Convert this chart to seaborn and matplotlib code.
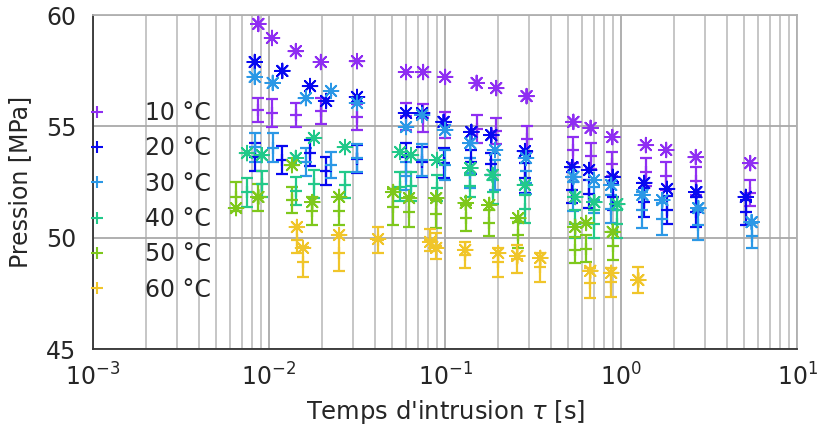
import numpy as np
import pandas as pd
import matplotlib
matplotlib.use("Agg")
import matplotlib.pyplot as plt
from matplotlib.lines import Line2D
from matplotlib.ticker import LogLocator, NullFormatter
import seaborn as sns

# Data (time in s, pressure in MPa)
temps = ["10 °C", "20 °C", "30 °C", "40 °C", "50 °C", "60 °C"]
colors = ["#8f2ef2", "#0808f0", "#2b98e6", "#22c98a", "#7ec81c", "#f0c52a"]

t10_x = [0.0087, 0.0104, 0.0142, 0.0197, 0.0316, 0.060, 0.075, 0.1, 0.151, 0.195, 0.29, 0.535, 0.67, 0.89, 1.38, 1.8, 2.65, 5.4]
t10_star = [59.60, 58.97, 58.38, 57.89, 57.93, 57.44, 57.44, 57.22, 56.95, 56.72, 56.36, 55.20, 54.93, 54.52, 54.16, 53.94, 53.62, 53.35]
t10_mean = [55.73, 55.60, 55.51, 55.69, 55.42, 55.45, 55.37, 55.06, 54.88, 54.79, 54.43, 53.94, 53.67, 53.31, 52.95, 52.77, 52.55, 52.01]
t10_err = [0.54, 0.63, 0.54, 0.58, 0.58, 0.60, 0.63, 0.58, 0.63, 0.58, 0.58, 0.58, 0.58, 0.54, 0.63, 0.63, 0.63, 0.58]

t20_x = [0.0083, 0.0119, 0.0171, 0.0211, 0.0316, 0.060, 0.074, 0.098, 0.141, 0.183, 0.284, 0.527, 0.657, 0.895, 1.35, 1.82, 2.67, 5.1]
t20_star = [57.89, 57.49, 56.81, 56.14, 56.32, 55.60, 55.60, 55.20, 54.75, 54.61, 53.89, 53.17, 53.04, 52.73, 52.46, 52.19, 52.05, 51.83]
t20_mean = [53.62, 53.49, 53.80, 53.00, 53.53, 53.62, 53.40, 53.35, 53.40, 53.30, 52.68, 52.14, 51.96, 51.83, 51.60, 51.24, 51.15, 51.15]
t20_err = [0.63, 0.63, 0.58, 0.63, 0.63, 0.65, 0.67, 0.67, 0.55, 0.50, 0.67, 0.58, 0.63, 0.60, 0.65, 0.63, 0.67, 0.56]

t30_x = [0.0083, 0.0105, 0.0162, 0.0225, 0.0316, 0.060, 0.074, 0.1, 0.139, 0.192, 0.288, 0.535, 0.70, 0.877, 1.32, 1.71, 2.74, 5.5]
t30_star = [57.22, 56.95, 56.27, 56.59, 56.05, 54.97, 55.51, 54.84, 54.25, 53.94, 53.58, 52.73, 52.59, 52.37, 51.92, 51.69, 51.33, 50.70]
t30_mean = [54.07, 54.03, 53.40, 53.26, 53.58, 52.77, 53.49, 53.26, 52.90, 52.82, 52.46, 51.83, 51.69, 51.29, 51.24, 50.84, 50.57, 50.08]
t30_err = [0.65, 0.65, 0.65, 0.60, 0.65, 0.63, 0.70, 0.67, 0.67, 0.67, 0.52, 0.65, 0.60, 0.63, 0.80, 0.70, 0.67, 0.56]

t40_x = [0.0075, 0.0091, 0.0142, 0.018, 0.027, 0.0555, 0.064, 0.09, 0.139, 0.186, 0.284, 0.548, 0.703, 0.949]
t40_star = [53.80, 53.71, 53.58, 54.48, 54.07, 53.85, 53.71, 53.49, 53.13, 52.82, 52.37, 51.83, 51.60, 51.51]
t40_mean = [52.05, 52.41, 52.10, 52.41, 52.37, 52.28, 52.32, 52.23, 52.32, 52.05, 51.29, 50.62, 50.62, 50.62]
t40_err = [0.65, 0.60, 0.63, 0.63, 0.60, 0.65, 0.65, 0.60, 0.50, 0.55, 0.63, 0.63, 0.63, 0.63]

t50_x = [0.0065, 0.0087, 0.0135, 0.0176, 0.025, 0.0507, 0.0624, 0.089, 0.131, 0.178, 0.26, 0.548, 0.632, 0.895]
t50_star = [51.33, 51.83, 53.26, 51.60, 51.83, 52.05, 51.78, 51.78, 51.56, 51.47, 50.88, 50.48, 50.66, 50.26]
t50_mean = [51.83, 51.80, 51.69, 51.20, 51.20, 51.38, 51.15, 51.06, 50.88, 50.66, 50.12, 49.45, 49.50, 49.63]
t50_err = [0.65, 0.60, 0.60, 0.63, 0.63, 0.80, 0.67, 0.63, 0.60, 0.60, 0.60, 0.60, 0.60, 0.63]

t60_x = [0.0144, 0.0156, 0.025, 0.0416, 0.0822, 0.089, 0.13, 0.2, 0.257, 0.347, 0.667, 0.877, 1.25]
t60_star = [50.48, 49.54, 50.12, 49.94, 49.81, 49.54, 49.45, 49.31, 49.18, 49.09, 48.51, 48.42, 48.10]
t60_mean = [49.90, 48.90, 49.31, 49.90, 49.90, 49.63, 49.22, 48.90, 49.04, 48.68, 47.97, 48.00, 48.10]
t60_err = [0.58, 0.67, 0.80, 0.58, 0.50, 0.60, 0.60, 0.65, 0.63, 0.65, 0.67, 0.65, 0.58]

series = [
    (t10_x, t10_star, t10_mean, t10_err),
    (t20_x, t20_star, t20_mean, t20_err),
    (t30_x, t30_star, t30_mean, t30_err),
    (t40_x, t40_star, t40_mean, t40_err),
    (t50_x, t50_star, t50_mean, t50_err),
    (t60_x, t60_star, t60_mean, t60_err),
]

# long table for the asterisk points
frames = []
for name, (x, star, mean, err) in zip(temps, series):
    frames.append(pd.DataFrame({"tau": x, "p": star, "T": name}))
stars = pd.concat(frames, ignore_index=True)

sns.set_theme(style="white")
plt.rcParams["font.family"] = ["DejaVu Sans"]
plt.rcParams["mathtext.fontset"] = "dejavusans"

fig = plt.figure(figsize=(8.22, 4.36), dpi=100)
ax = fig.add_axes([0.113, 0.1995, 0.857, 0.766])

# error bars (mean +/- std) with a '+' at the mean
for (x, star, mean, err), c in zip(series, colors):
    ax.errorbar(x, mean, yerr=err, fmt="+", color=c, ms=9, mew=1.6,
                elinewidth=1.6, capsize=4, capthick=1.6, zorder=3)

sns.scatterplot(data=stars, x="tau", y="p", hue="T", palette=colors,
                marker=(8, 2, 0), s=110, linewidth=1.4, legend=False,
                ax=ax, zorder=4)

ax.set_xscale("log")
ax.set_xlim(1e-3, 1e1)
ax.set_ylim(45, 60)
ax.set_yticks([45, 50, 55, 60])
ax.xaxis.set_major_locator(LogLocator(base=10, numticks=10))
ax.xaxis.set_minor_locator(LogLocator(base=10, subs=np.arange(2, 10), numticks=100))
ax.xaxis.set_minor_formatter(NullFormatter())

ax.grid(True, which="major", axis="both", color="#a9a9a9", lw=1.3)
ax.grid(True, which="minor", axis="x", color="#c2c2c2", lw=1.3)
ax.set_axisbelow(True)

for side in ["left", "bottom"]:
    ax.spines[side].set_color("#333333")
    ax.spines[side].set_linewidth(1.3)
for side in ["top", "right"]:
    ax.spines[side].set_color("#b0b0b0")
    ax.spines[side].set_linewidth(1.3)

ax.tick_params(axis="both", which="major", direction="in", length=7, width=1.3,
               labelsize=17, colors="#333333", labelcolor="#262626", pad=10)
ax.tick_params(axis="x", which="minor", direction="in", length=4, width=1.0, colors="#333333")
ax.tick_params(axis="y", pad=12)

ax.set_xlabel(r"Temps d'intrusion $\tau$ [s]", fontsize=17.5, color="#262626", labelpad=6)
ax.set_ylabel("Pression [MPa]", fontsize=17, color="#262626", labelpad=10)

handles = [Line2D([], [], ls="none", marker="+", color=c, ms=9, mew=1.5) for c in colors]
ax.legend(handles, temps, loc="upper left", bbox_to_anchor=(85 / 822, 1 - 101 / 436),
          bbox_transform=fig.transFigure, frameon=False, fontsize=17,
          handlelength=1.0, handletextpad=1.55, labelspacing=0.48, borderpad=0,
          borderaxespad=0)

fig.savefig("out.png", dpi=100)
